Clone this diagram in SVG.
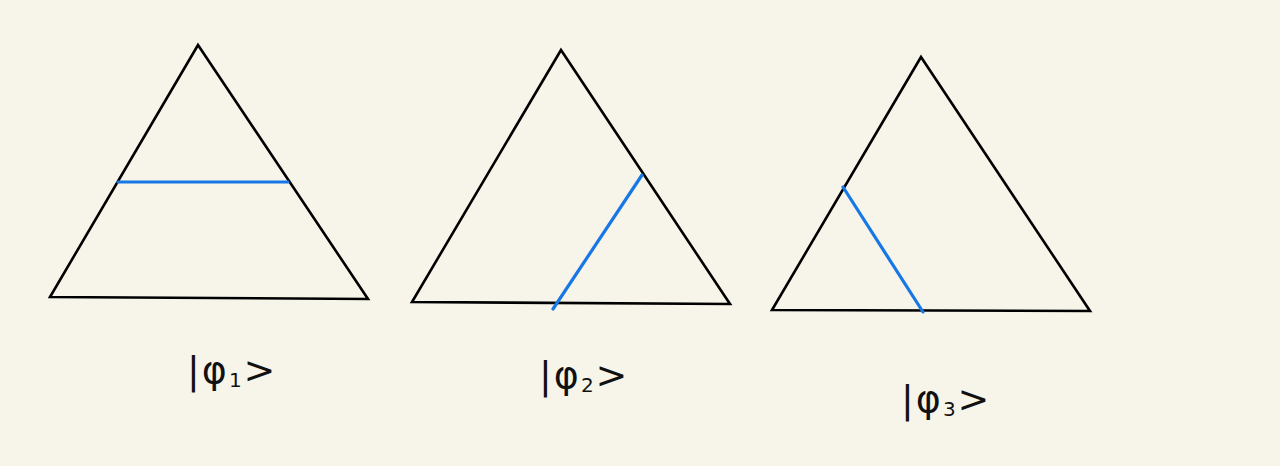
<svg xmlns="http://www.w3.org/2000/svg" width="1280" height="466" viewBox="0 0 1280 466">
<style>
.tri{fill:none;stroke:#000;stroke-width:2.6;stroke-linejoin:miter}
.cut{stroke:#1777e6;stroke-width:3.2;stroke-linecap:round}
.lbl{font-family:"DejaVu Sans","Liberation Sans",sans-serif;font-size:38px;fill:#111;letter-spacing:2px}
.sub{font-size:20px}
</style>
<rect width="1280" height="466" fill="#f7f5ea"/>
<g id="state1">
<polygon class="tri" points="198,45 50,297 368,299"/>
<text class="lbl" x="187" y="383">|φ<tspan class="sub" dy="4">1</tspan><tspan dy="-4">&gt;</tspan></text>
</g>
<g id="state2">
<polygon class="tri" points="561,50 412,302 730,304"/>
<text class="lbl" x="539" y="388">|φ<tspan class="sub" dy="4">2</tspan><tspan dy="-4">&gt;</tspan></text>
</g>
<g id="state3">
<polygon class="tri" points="921,57 772,310 1090,311"/>
<text class="lbl" x="901" y="412">|φ<tspan class="sub" dy="4">3</tspan><tspan dy="-4">&gt;</tspan></text>
</g>
<g id="connectors">
<line class="cut" x1="118" y1="182" x2="288" y2="182"/>
<line class="cut" x1="642" y1="175" x2="553" y2="309"/>
<line class="cut" x1="843" y1="187" x2="923" y2="312"/>
</g>
</svg>
